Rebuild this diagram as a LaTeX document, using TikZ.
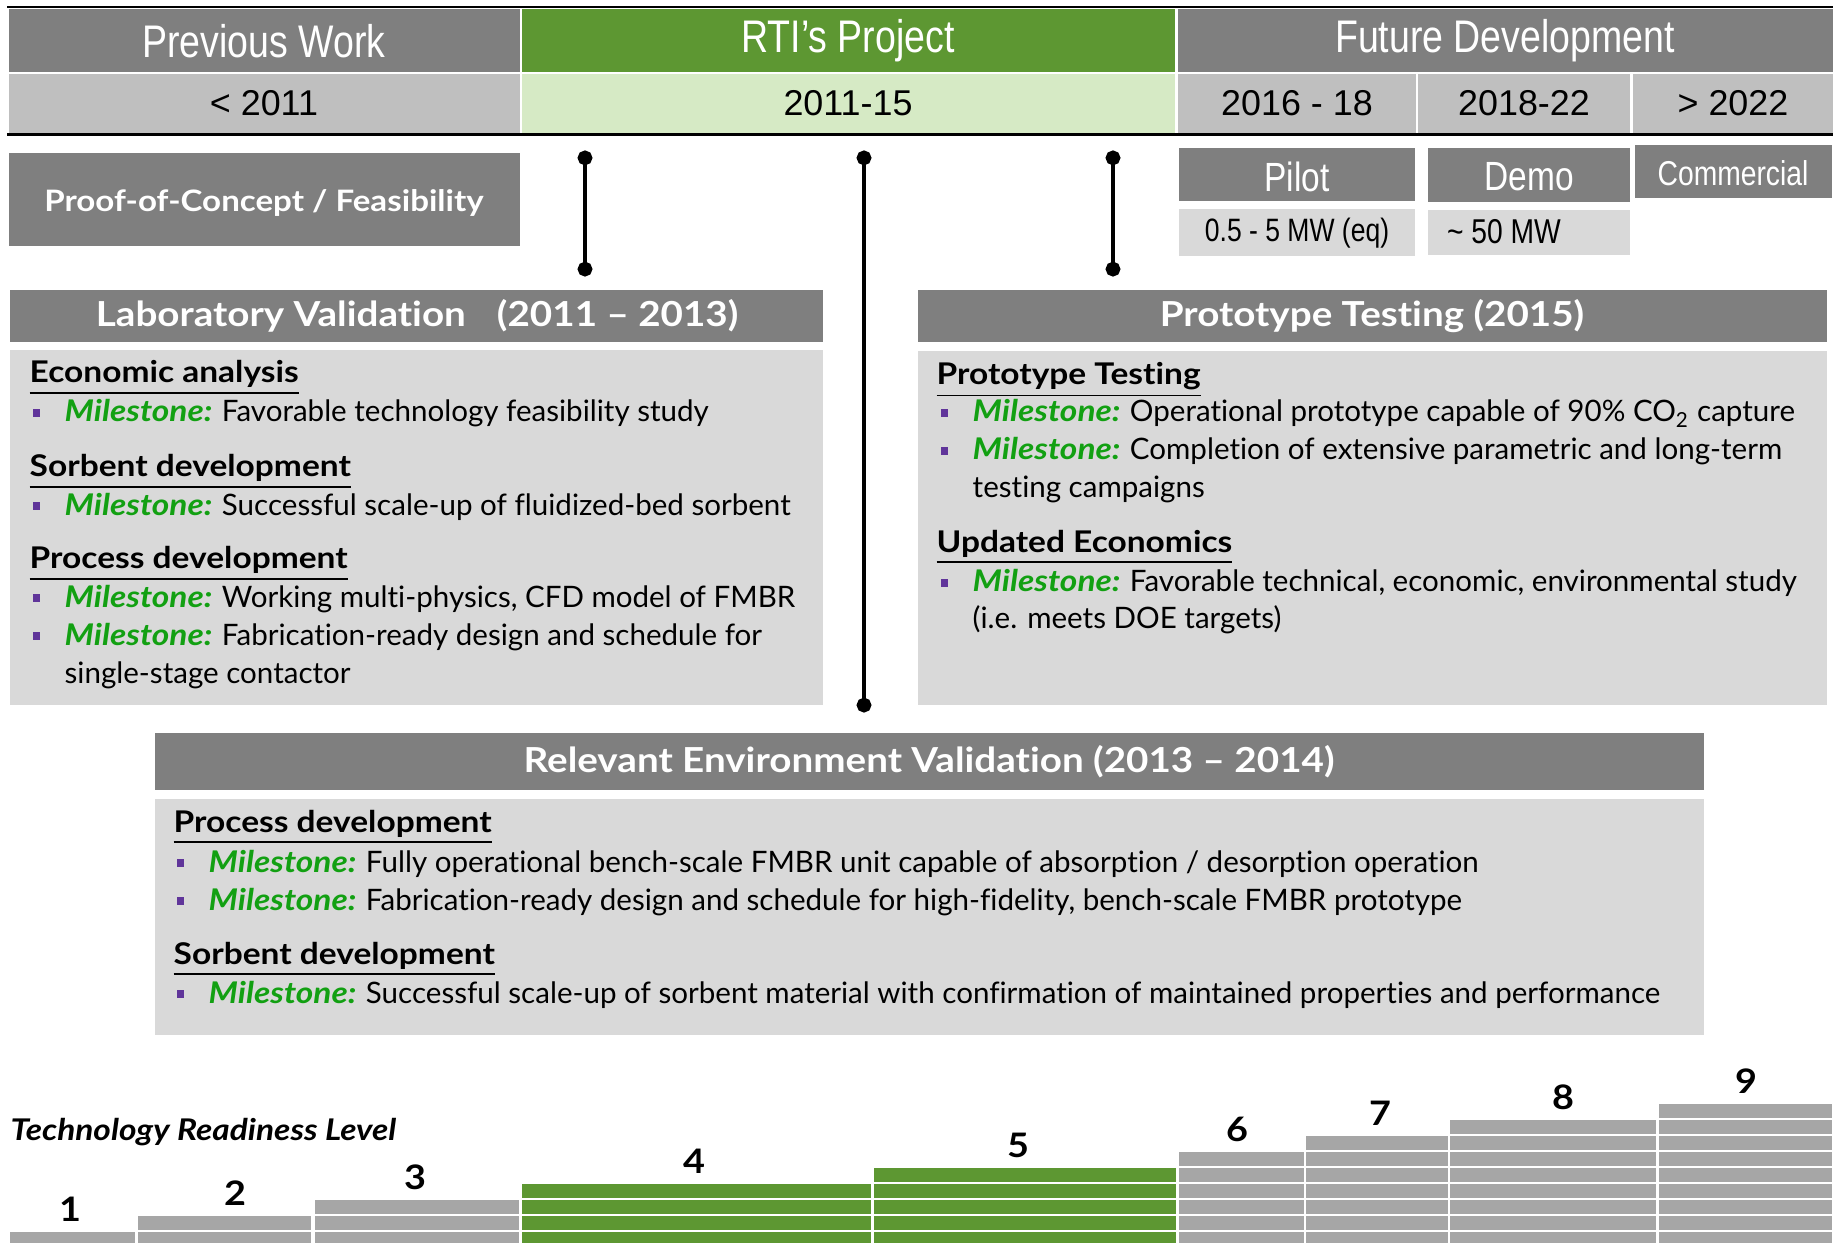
\documentclass[tikz,border=0pt]{standalone}
\usepackage{fontspec}
\setmainfont[Ligatures={TeX,NoCommon}]{Lato}
\newfontfamily\gillbold[FakeStretch=1.12, Ligatures={TeX,NoCommon}]{Lato}
\newfontfamily\arialfont{Liberation Sans}
\newfontfamily\narrowfont[FakeStretch=0.82]{Liberation Sans}
\usetikzlibrary{arrows.meta}

\definecolor{hdrgray}{HTML}{7F7F7F}
\definecolor{rowgray}{HTML}{BFBFBF}
\definecolor{bodygray}{HTML}{D9D9D9}
\definecolor{bargray}{HTML}{A6A6A6}
\definecolor{rtigreen}{HTML}{5D9732}
\definecolor{rtilight}{HTML}{D6EAC5}
\definecolor{msgreen}{HTML}{12A012}
\definecolor{bulletpurple}{HTML}{60359A}

\newcommand{\ms}{{\gillbold\bfseries\itshape\fontsize{8.5}{10}\selectfont\textcolor{msgreen}{Milestone:}}\hspace{0.32em}}

\begin{document}
\begin{tikzpicture}[x=0.01cm, y=-0.01cm,
  hdrtext/.style={text=white, font=\narrowfont\fontsize{13}{15}\selectfont},
  yeartext/.style={font=\arialfont\fontsize{10.2}{12}\selectfont},
  phasetext/.style={text=white, font=\narrowfont\fontsize{11.6}{13}\selectfont},
  sizetext/.style={font=\narrowfont\fontsize{9.2}{11}\selectfont},
  secttext/.style={text=white, font=\gillbold\bfseries\fontsize{9.8}{12}\selectfont},
  headtext/.style={anchor=base west, inner sep=0pt, font=\gillbold\bfseries\fontsize{8.5}{10}\selectfont},
  bodytext/.style={anchor=base west, inner sep=0pt, font=\fontsize{8.4}{10}\selectfont},
  trlnum/.style={anchor=base, inner sep=0pt, font=\gillbold\bfseries\fontsize{9.6}{12}\selectfont},
  conn/.style={line width=1.1pt, {Circle[length=4.2pt]}-{Circle[length=4.2pt]}},
]
\useasboundingbox (0,0) rectangle (1839,1243);

% timeline header
\fill[hdrgray] (9,9) rectangle (520,72);
\fill[rtigreen] (522,9) rectangle (1175,72);
\fill[hdrgray] (1178,9) rectangle (1833,72);
\fill[rowgray] (9,74) rectangle (520,133);
\fill[rtilight] (522,74) rectangle (1175,133);
\foreach \xa/\xb in {1178/1416, 1418/1630, 1633/1833}
  \fill[rowgray] (\xa,74) rectangle (\xb,133);
\draw[line width=0.8pt] (7,7) -- (1833,7);
\draw[line width=0.8pt] (7,134.5) -- (1833,134.5);

\node[hdrtext] (prev) at (264,41) {Previous Work};
\node[hdrtext] (rti) at (848,41) {RTI’s Project};
\node[hdrtext] (future) at (1505,41) {Future Development};
\foreach \x/\yr [count=\i] in {264/< 2011, 848/2011-15, 1297/2016 - 18, 1524/2018-22, 1733/> 2022}
  \node[yeartext] (yr\i) at (\x,103) {\yr};

% proof of concept, pilot, demo, commercial
\fill[hdrgray] (9,153) rectangle (520,246);
\node[text=white, font=\gillbold\bfseries\fontsize{8.4}{11}\selectfont] (poc) at (264,203) {Proof-of-Concept / Feasibility};

\fill[hdrgray] (1179,148) rectangle (1415,201);
\fill[bodygray] (1179,209) rectangle (1415,256);
\fill[hdrgray] (1428,148) rectangle (1630,202);
\fill[bodygray] (1428,210) rectangle (1630,255);
\fill[hdrgray] (1635,145) rectangle (1832,198);
\node[phasetext] (pilot) at (1297,177) {Pilot};
\node[phasetext] (demo) at (1529,177) {Demo};
\node[phasetext, font=\narrowfont\fontsize{9.8}{12}\selectfont] (comm) at (1733,173) {Commercial};
\node[sizetext] (pilotmw) at (1297,233) {0.5 - 5 MW (eq)};
\node[sizetext, font=\narrowfont\fontsize{9.8}{11}\selectfont] (demomw) at (1504,232) {\textasciitilde{} 50 MW};

% connectors
\coordinate (c1top) at (585,150.5);  \coordinate (c1bot) at (585,276.5);
\coordinate (c2top) at (864,150.5);  \coordinate (c2bot) at (864,712.5);
\coordinate (c3top) at (1113,150.5); \coordinate (c3bot) at (1113,276.5);
\draw[conn] (c1top) -- (c1bot);
\draw[conn] (c2top) -- (c2bot);
\draw[conn] (c3top) -- (c3bot);

% laboratory validation
\fill[hdrgray] (10,290) rectangle (823,342);
\fill[bodygray] (10,350) rectangle (823,705);
\node[secttext] (labhd) at (417,316) {Laboratory Validation\hspace{0.9em}(2011 – 2013)};
\foreach \y/\txt [count=\i] in {383/Economic analysis, 477/Sorbent development, 569/Process development}
  \node[headtext] (labh\i) at (29,\y) {\underline{\txt}};
\foreach \y/\txt [count=\i] in {422/Favorable technology feasibility study,
    515/Successful scale-up of fluidized-bed sorbent,
    607/{Working multi-physics, CFD model of FMBR},
    645/Fabrication-ready design and schedule for} {
  \fill[bulletpurple] (33,\y-13) rectangle (40,\y-5);
  \node[bodytext] (labm\i) at (64,\y) {\ms\txt};
}
\node[bodytext] (labc) at (64,683) {single-stage contactor};

% prototype testing
\fill[hdrgray] (918,290) rectangle (1827,342);
\fill[bodygray] (918,351) rectangle (1827,705);
\node[secttext] (prothd) at (1372,316) {Prototype Testing (2015)};
\foreach \y/\txt [count=\i] in {385/Prototype Testing, 552/Updated Economics}
  \node[headtext] (proh\i) at (936,\y) {\underline{\txt}};
\foreach \y/\txt [count=\i] in {422/Operational prototype capable of 90\% CO\textsubscript{2} capture,
    460/Completion of extensive parametric and long-term,
    592/{Favorable technical, economic, environmental study}} {
  \fill[bulletpurple] (941,\y-13) rectangle (948,\y-5);
  \node[bodytext] (prom\i) at (972,\y) {\ms\txt};
}
\node[bodytext] (proc1) at (972,498) {testing campaigns};
\node[bodytext] (proc2) at (972,629) {(i.e. meets DOE targets)};

% relevant environment validation
\fill[hdrgray] (155,733) rectangle (1704,790);
\fill[bodygray] (155,799) rectangle (1704,1035);
\node[secttext] (envhd) at (929,762) {Relevant Environment Validation (2013 – 2014)};
\foreach \y/\txt [count=\i] in {832/Process development, 964/Sorbent development}
  \node[headtext] (envh\i) at (173,\y) {\underline{\txt}};
\foreach \y/\txt [count=\i] in {872/{Fully operational bench-scale FMBR unit capable of absorption / desorption operation},
    910/{Fabrication-ready design and schedule for high-fidelity, bench-scale FMBR prototype},
    1003/{Successful scale-up of sorbent material with confirmation of maintained properties and performance}} {
  \fill[bulletpurple] (177,\y-13) rectangle (184,\y-5);
  \node[bodytext] (envm\i) at (208,\y) {\ms\txt};
}

% technology readiness level steps
\node[anchor=base west, inner sep=0pt, font=\gillbold\bfseries\itshape\fontsize{8.5}{10}\selectfont] (trl) at (10,1140) {Technology Readiness Level};
\foreach \lvl/\xa/\xb/\nx/\fc in {1/10/135/70/bargray, 2/138/311/235/bargray, 3/315/519/415/bargray,
    4/522/871/694/rtigreen, 5/874/1176/1018/rtigreen, 6/1179/1304/1237/bargray,
    7/1306/1448/1380/bargray, 8/1450/1656/1563/bargray, 9/1659/1832/1746/bargray} {
  \foreach \r in {1,...,\lvl}
    \fill[\fc] (\xa,{1232-(\r-1)*16}) rectangle (\xb,{1246-(\r-1)*16});
  \node[trlnum] (trl\lvl) at (\nx,{1221-(\lvl-1)*16}) {\lvl};
}

\end{tikzpicture}
\end{document}
